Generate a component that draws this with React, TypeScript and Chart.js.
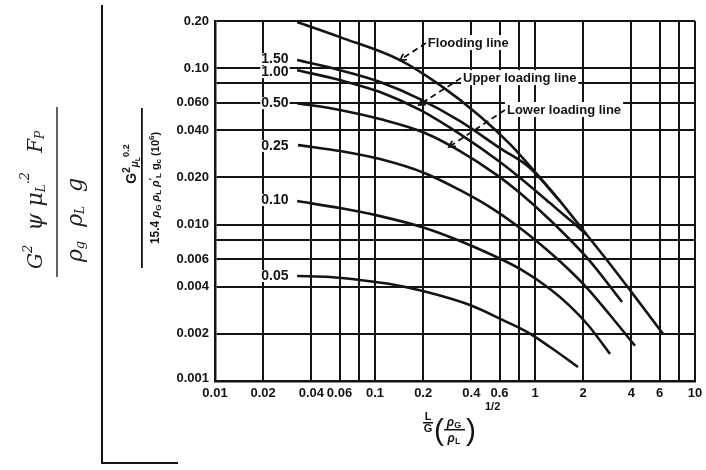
import React, { useEffect, useRef } from "react";
import { Chart, registerables } from "chart.js";
Chart.register(...registerables);

// grid / tick data
const X_GRID = [0.01, 0.02, 0.04, 0.06, 0.08, 0.1, 0.2, 0.4, 0.6, 0.8, 1, 2, 4, 6, 8, 10];
const Y_GRID = [0.001, 0.002, 0.004, 0.006, 0.008, 0.01, 0.02, 0.04, 0.06, 0.08, 0.1, 0.2];
const X_LABEL_VALUES = [0.01, 0.02, 0.04, 0.06, 0.1, 0.2, 0.4, 0.6, 1, 2, 4, 6, 10];
const X_LABEL_TEXT = ["0.01", "0.02", "0.04", "0.06", "0.1", "0.2", "0.4", "0.6", "1", "2", "4", "6", "10"];
const Y_LABEL_VALUES = [0.2, 0.1, 0.06, 0.04, 0.02, 0.01, 0.006, 0.004, 0.002, 0.001];
const Y_LABEL_TEXT = ["0.20", "0.10", "0.060", "0.040", "0.020", "0.010", "0.006", "0.004", "0.002", "0.001"];

// curves
const FLOOD_X = [0.0326, 0.0604, 0.1433, 0.255, 0.453, 0.698, 1.029, 1.433, 2.113, 2.942, 3.925, 6.31];
const FLOOD_Y = [0.197, 0.1578, 0.1125, 0.0778, 0.0493, 0.0327, 0.021, 0.01413, 0.00857, 0.0056, 0.00381, 0.002];
const C150_X = [0.0326, 0.0604, 0.1075, 0.191, 0.34, 0.604, 0.93, 1.433];
const C150_Y = [0.1125, 0.097, 0.0815, 0.0634, 0.0458, 0.0308, 0.023, 0.01413];
const C100_X = [0.0326, 0.0604, 0.1075, 0.191, 0.34, 0.604, 0.841, 1.241, 1.655, 2.113];
const C100_Y = [0.097, 0.0838, 0.0703, 0.054, 0.0378, 0.0251, 0.0192, 0.01371, 0.01069, 0.00857];
const C050_X = [0.0326, 0.0604, 0.1075, 0.205, 0.34, 0.579, 0.806, 1.241, 2.144, 3.498];
const C050_Y = [0.0597, 0.054, 0.0472, 0.0385, 0.0295, 0.0207, 0.0159, 0.01069, 0.00603, 0.0032];
const C025_X = [0.033, 0.0604, 0.1075, 0.205, 0.34, 0.523, 0.806, 1.075, 1.54, 2.144, 2.942, 4.217];
const C025_Y = [0.0322, 0.0295, 0.0262, 0.0213, 0.0166, 0.01294, 0.00951, 0.0075, 0.00543, 0.00387, 0.00264, 0.00168];
const C010_X = [0.0326, 0.0604, 0.1075, 0.205, 0.34, 0.523, 0.806, 1.241, 1.655, 2.144, 2.942];
const C010_Y = [0.01413, 0.01274, 0.01132, 0.00951, 0.00785, 0.00648, 0.0052, 0.00387, 0.00301, 0.00228, 0.00149];
const C005_X = [0.0326, 0.0524, 0.0806, 0.1241, 0.1995, 0.392, 0.631, 0.891, 1.241, 1.857];
const C005_Y = [0.00469, 0.00462, 0.00442, 0.00417, 0.00376, 0.00306, 0.00245, 0.00206, 0.00165, 0.00123];

const CURVE_LABEL_TEXT = ["1.50", "1.00", "0.50", "0.25", "0.10", "0.05"];
const CURVE_LABEL_Y = [0.114, 0.0942, 0.0597, 0.0318, 0.01436, 0.00469];
const CURVE_LABEL_X = 0.0237;

const ANNOT_TEXT = ["Flooding line", "Upper loading line", "Lower loading line"];
const ANNOT_TEXT_X = [0.214, 0.355, 0.668];
const ANNOT_TEXT_Y = [0.1445, 0.0863, 0.054];
const ANNOT_TIP_X = [0.1433, 0.188, 0.29];
const ANNOT_TIP_Y = [0.1125, 0.0581, 0.0313];

const SANS = '"Liberation Sans", Arial, sans-serif';
const INK = "#141414";

function pts(xs: number[], ys: number[]) {
  return xs.map((x, i) => ({ x, y: ys[i] }));
}

type Seg = [string, string, number]; // text, font, dy
function drawRich(ctx: CanvasRenderingContext2D, segs: Seg[], x: number, y: number, align: "left" | "center") {
  let total = 0;
  for (const s of segs) {
    ctx.font = s[1];
    total += ctx.measureText(s[0]).width;
  }
  let cx = align === "center" ? x - total / 2 : x;
  ctx.textAlign = "left";
  for (const s of segs) {
    ctx.font = s[1];
    ctx.fillText(s[0], cx, y + s[2]);
    cx += ctx.measureText(s[0]).width;
  }
}

const deco = {
  id: "deco",
  afterDraw(chart: any) {
    const ctx: CanvasRenderingContext2D = chart.ctx;
    const xs = chart.scales.x;
    const ys = chart.scales.y;
    const area = chart.chartArea;
    ctx.save();
    ctx.fillStyle = INK;
    ctx.strokeStyle = INK;

    // tick labels
    ctx.font = `bold 13px ${SANS}`;
    ctx.textAlign = "right";
    ctx.textBaseline = "middle";
    Y_LABEL_VALUES.forEach((v, i) => {
      const py = ys.getPixelForValue(v) - (i === Y_LABEL_VALUES.length - 1 ? 3 : 0);
      ctx.fillText(Y_LABEL_TEXT[i], area.left - 6, py);
    });
    ctx.textAlign = "center";
    ctx.textBaseline = "top";
    X_LABEL_VALUES.forEach((v, i) => {
      ctx.fillText(X_LABEL_TEXT[i], xs.getPixelForValue(v), area.bottom + 6);
    });

    // curve labels
    ctx.font = `bold 14px ${SANS}`;
    ctx.textBaseline = "middle";
    CURVE_LABEL_TEXT.forEach((t, i) => {
      const px = xs.getPixelForValue(CURVE_LABEL_X);
      const py = ys.getPixelForValue(CURVE_LABEL_Y[i]);
      const w = ctx.measureText(t).width;
      ctx.fillStyle = "#fff";
      ctx.fillRect(px - w / 2 - 1, py - 6, w + 2, 12);
      ctx.fillStyle = INK;
      ctx.textAlign = "center";
      ctx.fillText(t, px, py);
    });

    // annotations
    ctx.font = `bold 13px ${SANS}`;
    ANNOT_TEXT.forEach((t, i) => {
      const tx = xs.getPixelForValue(ANNOT_TEXT_X[i]);
      const ty = ys.getPixelForValue(ANNOT_TEXT_Y[i]);
      const w = ctx.measureText(t).width;
      ctx.fillStyle = "#fff";
      ctx.fillRect(tx - 2, ty - 8, w + 4, 15);
      ctx.fillStyle = INK;
      ctx.textAlign = "left";
      ctx.fillText(t, tx, ty);
      const ax = xs.getPixelForValue(ANNOT_TIP_X[i]);
      const ay = ys.getPixelForValue(ANNOT_TIP_Y[i]);
      const sx = tx - 2;
      const sy = ty;
      ctx.lineWidth = 1.8;
      ctx.setLineDash([6, 4]);
      ctx.beginPath();
      ctx.moveTo(sx, sy);
      ctx.lineTo(ax, ay);
      ctx.stroke();
      ctx.setLineDash([]);
      const ang = Math.atan2(ay - sy, ax - sx);
      ctx.beginPath();
      ctx.moveTo(ax - 7 * Math.cos(ang - 0.5), ay - 7 * Math.sin(ang - 0.5));
      ctx.lineTo(ax, ay);
      ctx.lineTo(ax - 7 * Math.cos(ang + 0.5), ay - 7 * Math.sin(ang + 0.5));
      ctx.stroke();
    });

    // x axis title
    ctx.textBaseline = "alphabetic";
    ctx.textAlign = "center";
    ctx.font = `bold 11px ${SANS}`;
    const tX = 428;
    ctx.fillText("L", tX, 420);
    ctx.fillRect(tX - 5, 422, 10, 1.5);
    ctx.fillText("G", tX, 432);
    ctx.font = `30px ${SANS}`;
    ctx.fillText("(", 439, 440);
    ctx.fillText(")", 471, 440);
    drawRich(ctx, [["ρ", `italic bold 12px ${SANS}`, 0], ["G", `bold 9px ${SANS}`, 2]], 454, 426, "center");
    ctx.fillRect(444, 429, 21, 1.5);
    drawRich(ctx, [["ρ", `italic bold 12px ${SANS}`, 0], ["L", `bold 9px ${SANS}`, 2]], 454, 442, "center");
    ctx.font = `bold 11px ${SANS}`;
    ctx.fillText("1/2", 485, 410);

    // y axis title (rotated)
    ctx.save();
    ctx.translate(142, 188);
    ctx.rotate(-Math.PI / 2);
    ctx.fillRect(-80, -1, 160, 1.8);
    ctx.restore();
    ctx.save();
    ctx.translate(136, 164);
    ctx.rotate(-Math.PI / 2);
    drawRich(
      ctx,
      [
        ["G", `bold 14px ${SANS}`, 0],
        ["2", `bold 10px ${SANS}`, -6],
        ["μ", `italic bold 10px ${SANS}`, 2],
        ["L", `bold 7px ${SANS}`, 4],
        ["0.2", `bold 9px ${SANS}`, -7],
      ],
      0,
      0,
      "center"
    );
    ctx.restore();
    ctx.save();
    ctx.translate(159, 188);
    ctx.rotate(-Math.PI / 2);
    drawRich(
      ctx,
      [
        ["15.4 ", `bold 12px ${SANS}`, 0],
        ["ρ", `italic bold 11px ${SANS}`, 0],
        ["G", `bold 8px ${SANS}`, 2],
        [" ρ", `italic bold 11px ${SANS}`, 0],
        ["L", `bold 8px ${SANS}`, 2],
        [" ρ", `italic bold 11px ${SANS}`, 0],
        ["′", `bold 9px ${SANS}`, -4],
        ["L", `bold 8px ${SANS}`, 2],
        [" g", `bold 11px ${SANS}`, 0],
        ["c", `bold 8px ${SANS}`, 2],
        [" (10", `bold 11px ${SANS}`, 0],
        ["6", `bold 8px ${SANS}`, -5],
        [")", `bold 11px ${SANS}`, 0],
      ],
      0,
      0,
      "center"
    );
    ctx.restore();

    // handwritten formula on the left
    ctx.fillStyle = "#222";
    ctx.strokeStyle = "#222";
    ctx.lineWidth = 1.4;
    ctx.beginPath();
    ctx.moveTo(57, 107);
    ctx.lineTo(57, 277);
    ctx.stroke();
    const HW = '"DejaVu Serif", serif';
    ctx.save();
    ctx.translate(42, 200);
    ctx.rotate(-Math.PI / 2);
    drawRich(
      ctx,
      [
        ["G", `italic 20px ${HW}`, 0],
        ["2", `italic 13px ${HW}`, -10],
        ["  ψ ", `italic 22px ${HW}`, 0],
        ["μ", `italic 22px ${HW}`, 0],
        ["L", `italic 12px ${HW}`, 3],
        [".2", `italic 13px ${HW}`, -13],
        ["   F", `italic 20px ${HW}`, 0],
        ["P", `italic 12px ${HW}`, 2],
      ],
      0,
      0,
      "center"
    );
    ctx.restore();
    ctx.save();
    ctx.translate(82, 220);
    ctx.rotate(-Math.PI / 2);
    drawRich(
      ctx,
      [
        ["ρ", `italic 22px ${HW}`, 0],
        ["g", `italic 13px ${HW}`, 2],
        ["  ρ", `italic 22px ${HW}`, 0],
        ["L", `italic 12px ${HW}`, 2],
        ["  g", `italic 22px ${HW}`, 0],
      ],
      0,
      0,
      "center"
    );
    ctx.restore();

    // page border lines
    ctx.strokeStyle = INK;
    ctx.lineWidth = 2;
    ctx.beginPath();
    ctx.moveTo(102, 5);
    ctx.lineTo(102, 463);
    ctx.lineTo(178, 463);
    ctx.stroke();

    ctx.restore();
  },
};

const curveStyle = {
  borderColor: INK,
  borderWidth: 2.6,
  pointRadius: 0,
  fill: false,
  cubicInterpolationMode: "monotone" as const,
};

export default function App() {
  const ref = useRef<HTMLCanvasElement>(null);
  useEffect(() => {
    if (!ref.current) return;
    const chart = new Chart(ref.current, {
      type: "line",
      data: {
        datasets: [
          { label: "Flooding line", data: pts(FLOOD_X, FLOOD_Y), ...curveStyle },
          { label: "1.50", data: pts(C150_X, C150_Y), ...curveStyle },
          { label: "1.00", data: pts(C100_X, C100_Y), ...curveStyle },
          { label: "0.50", data: pts(C050_X, C050_Y), ...curveStyle },
          { label: "0.25", data: pts(C025_X, C025_Y), ...curveStyle },
          { label: "0.10", data: pts(C010_X, C010_Y), ...curveStyle },
          { label: "0.05", data: pts(C005_X, C005_Y), ...curveStyle },
        ],
      },
      options: {
        animation: false,
        responsive: false,
        devicePixelRatio: 1,
        layout: { padding: { left: 215, top: 21, right: 11, bottom: 89 } },
        plugins: { legend: { display: false }, tooltip: { enabled: false } },
        scales: {
          x: {
            type: "logarithmic",
            min: 0.01,
            max: 10,
            afterBuildTicks: (s: any) => {
              s.ticks = X_GRID.map((v) => ({ value: v }));
            },
            ticks: { display: false },
            grid: { color: INK, lineWidth: 2, drawTicks: false },
            border: { color: INK, width: 2.5 },
          },
          y: {
            type: "logarithmic",
            min: 0.001,
            max: 0.2,
            afterBuildTicks: (s: any) => {
              s.ticks = Y_GRID.map((v) => ({ value: v }));
            },
            ticks: { display: false },
            grid: { color: INK, lineWidth: 2, drawTicks: false },
            border: { color: INK, width: 2.5 },
          },
        },
      },
      plugins: [deco],
    } as any);
    return () => chart.destroy();
  }, []);
  return (
    <div style={{ position: "absolute", left: 0, top: 0, width: 706, height: 470, background: "#fff" }}>
      <canvas ref={ref} width={706} height={470} style={{ display: "block" }} />
    </div>
  );
}
